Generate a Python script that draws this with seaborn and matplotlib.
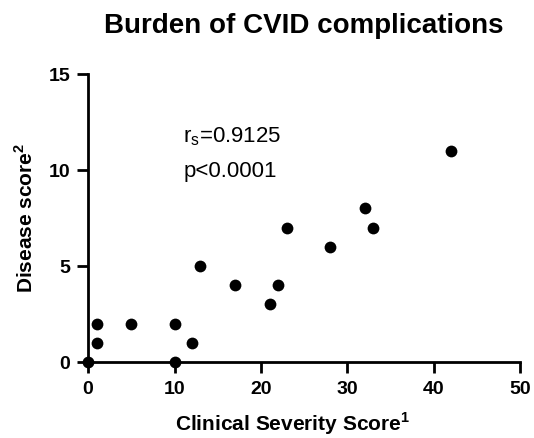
import matplotlib
matplotlib.use("Agg")
import matplotlib.pyplot as plt
import pandas as pd
import seaborn as sns

clinical_severity = [0, 1, 1, 5, 10, 10, 12, 13, 17, 21, 22, 23, 28, 32, 33, 42]
disease_score = [0, 1, 2, 2, 2, 0, 1, 5, 4, 3, 4, 7, 6, 8, 7, 11]
x_ticks = [0, 10, 20, 30, 40, 50]
y_ticks = [0, 5, 10, 15]

sns.set_style("ticks", {"axes.edgecolor": "black", "text.color": "black",
                        "axes.labelcolor": "black", "xtick.color": "black",
                        "ytick.color": "black"})
plt.rcParams["font.family"] = ["Liberation Sans", "DejaVu Sans"]
plt.rcParams["mathtext.fontset"] = "custom"
plt.rcParams["mathtext.rm"] = "Liberation Sans"
plt.rcParams["mathtext.bf"] = "Liberation Sans:bold"

df = pd.DataFrame({"clin": clinical_severity, "dis": disease_score})

fig = plt.figure(figsize=(5.34, 4.38), dpi=100)
ax = fig.add_axes([0.165, 0.1735, 0.809, 0.6575])
sns.scatterplot(data=df, x="clin", y="dis", ax=ax, color="black", s=72,
                edgecolor="black", linewidth=0, clip_on=False, zorder=3)

ax.set_xlim(0, 50)
ax.set_ylim(0, 15)
ax.set_xticks(x_ticks)
ax.set_yticks(y_ticks)
for lab in ax.get_xticklabels() + ax.get_yticklabels():
    lab.set_fontweight("bold")
ax.tick_params(axis="both", labelsize=14, width=2, length=8, color="black",
               labelcolor="black")
ax.tick_params(axis="x", pad=6)
ax.tick_params(axis="y", pad=5)
for side in ["left", "bottom"]:
    ax.spines[side].set_linewidth(2)
sns.despine(ax=ax)

ax.set_xlabel(r"Clinical Severity Score$^\mathbf{1}$", fontsize=15, fontweight="bold",
              color="black")
ax.xaxis.set_label_coords(0.472, -0.168)
ax.set_ylabel(r"Disease score$^\mathbf{2}$", fontsize=15, fontweight="bold",
              color="black", labelpad=8)
ax.set_title("Burden of CVID complications", fontsize=20, fontweight="bold",
             pad=29.5, color="black")

ax.text(11, 11.45, r"r$_\mathregular{s}$=0.9125", fontsize=16, color="black")
ax.text(11, 9.64, "p<0.0001", fontsize=16, color="black")

fig.savefig("out.png", dpi=100)
